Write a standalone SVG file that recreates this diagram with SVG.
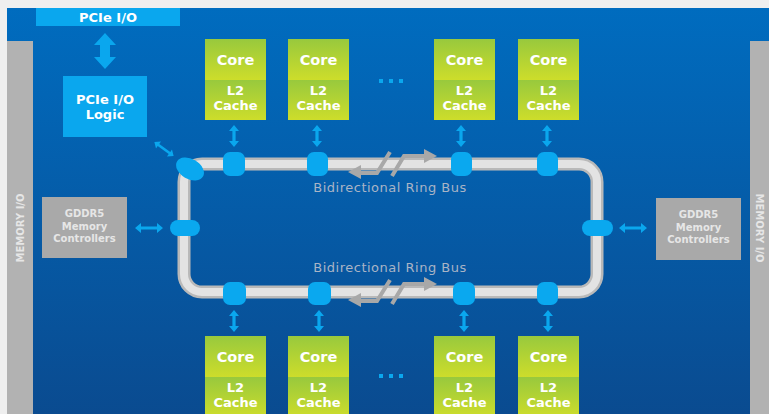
<svg xmlns="http://www.w3.org/2000/svg" width="769" height="414" viewBox="0 0 769 414">
<defs>
<style>
.t{font-family:"DejaVu Sans","Open Sans",sans-serif;font-weight:700;fill:#ffffff;text-anchor:middle}
.g{font-family:"DejaVu Sans","Open Sans",sans-serif;font-weight:700;fill:#e6e6e6;text-anchor:middle;font-size:10px}
.rb{font-family:"DejaVu Sans","Open Sans",sans-serif;font-size:13px;letter-spacing:0.5px;fill:#a9b4c6;text-anchor:middle}
.lb{fill:#0aa7ee}
.node{fill:#0aa8ef}
.ga{fill:none;stroke:#a8a8a8;stroke-width:4}
.gh{fill:#a8a8a8}
</style>
<linearGradient id="bg" x1="0" y1="0" x2="0" y2="1">
<stop offset="0" stop-color="#006cbf"/>
<stop offset="1" stop-color="#0a4b90"/>
</linearGradient>
<linearGradient id="gc" x1="0" y1="0" x2="0" y2="1">
<stop offset="0" stop-color="#98c93d"/>
<stop offset="1" stop-color="#cddd2b"/>
</linearGradient>
<path id="va" d="M0,-11 L5,-5 L1.6,-5 L1.6,5 L5,5 L0,11 L-5,5 L-1.6,5 L-1.6,-5 L-5,-5 Z"/>
<path id="ha" d="M-14,0 L-8,-5 L-8,-1.6 L8,-1.6 L8,-5 L14,0 L8,5 L8,1.6 L-8,1.6 L-8,5 Z"/>
<g id="blk">
<rect x="0" y="0" width="61" height="41" fill="url(#gc)"/>
<rect x="0" y="41" width="61" height="40" fill="url(#gc)"/>
<text class="t" x="30.5" y="26" font-size="14.5">Core</text>
<text class="t" x="30.5" y="56" font-size="13">L2</text>
<text class="t" x="30.5" y="71" font-size="13">Cache</text>
</g>
<g id="rba">
<path class="ga" d="M390,152 L377,173 L356,173"/>
<path class="gh" d="M348,172 L361,165 L361,179 Z"/>
<path class="ga" d="M392,176 L404,156 L425,156"/>
<path class="gh" d="M437,156 L424,149 L424,163 Z"/>
</g>
</defs>
<rect x="0" y="0" width="769" height="414" fill="#efefef"/>
<rect x="7" y="8" width="762" height="406" fill="url(#bg)"/>
<g id="mem-io-left">
<rect x="7" y="41" width="26" height="373" fill="#b2b2b2"/>
<text class="g" transform="translate(24,228) rotate(-90)">MEMORY I/O</text>
</g>
<g id="mem-io-right">
<rect x="750" y="41" width="19" height="373" fill="#b2b2b2"/>
<text class="g" transform="translate(756,228) rotate(90)">MEMORY I/O</text>
</g>
<g id="pcie-io">
<rect x="36" y="8" width="144" height="18" class="lb"/>
<text class="t" x="108" y="22" font-size="13">PCIe I/O</text>
</g>
<g id="pcie-logic">
<rect x="63" y="76" width="84" height="61" class="lb"/>
<text class="t" x="105" y="104" font-size="13">PCIe I/O</text>
<text class="t" x="105" y="119" font-size="13">Logic</text>
</g>
<g id="gddr5-left">
<rect x="42" y="197" width="85" height="61" fill="#a9a9a9"/>
<text class="g" x="84.5" y="217">GDDR5</text>
<text class="g" x="84.5" y="229.5">Memory</text>
<text class="g" x="84.5" y="242">Controllers</text>
</g>
<g id="gddr5-right">
<rect x="656" y="198" width="85" height="62" fill="#a9a9a9"/>
<text class="g" x="698.5" y="218">GDDR5</text>
<text class="g" x="698.5" y="230.5">Memory</text>
<text class="g" x="698.5" y="243">Controllers</text>
</g>
<g id="ring">
<rect x="184" y="164" width="413" height="128" rx="18" fill="none" stroke="#b9b9b9" stroke-width="13"/>
<rect x="184" y="164" width="413" height="128" rx="18" fill="none" stroke="#e3e3e3" stroke-width="8"/>
<use href="#rba"/>
<use href="#rba" y="128"/>
<text class="rb" x="390" y="192">Bidirectional Ring Bus</text>
<text class="rb" x="390" y="272">Bidirectional Ring Bus</text>
</g>
<g id="ring-stops">
<rect class="node" x="223" y="152" width="22" height="24" rx="7"/>
<rect class="node" x="307" y="152" width="21" height="24" rx="7"/>
<rect class="node" x="451" y="152" width="21" height="24" rx="7"/>
<rect class="node" x="537" y="152" width="21" height="24" rx="7"/>
<rect class="node" x="223" y="282" width="23" height="23" rx="7"/>
<rect class="node" x="308" y="282" width="23" height="23" rx="7"/>
<rect class="node" x="453" y="282" width="22" height="23" rx="7"/>
<rect class="node" x="537" y="282" width="21" height="23" rx="7"/>
<rect class="node" x="170" y="220" width="30" height="16" rx="8"/>
<rect class="node" x="582" y="220" width="31" height="16" rx="8"/>
<ellipse class="node" cx="190" cy="169" rx="15" ry="10" transform="rotate(30 190 169)"/>
</g>
<g id="cores-top">
<use href="#blk" x="205" y="39"/>
<use href="#blk" x="288" y="39"/>
<use href="#blk" x="434" y="39"/>
<use href="#blk" x="518" y="39"/>
<rect x="379" y="79" width="4" height="4" class="lb"/>
<rect x="389" y="79" width="4" height="4" class="lb"/>
<rect x="399" y="79" width="4" height="4" class="lb"/>
</g>
<g id="cores-bottom">
<use href="#blk" x="205" y="336"/>
<use href="#blk" x="288" y="336"/>
<use href="#blk" x="434" y="336"/>
<use href="#blk" x="518" y="336"/>
<rect x="379" y="374" width="4" height="4" class="lb"/>
<rect x="389" y="374" width="4" height="4" class="lb"/>
<rect x="399" y="374" width="4" height="4" class="lb"/>
</g>
<g id="connectors" class="lb">
<path d="M105,33 L116,45 L110,45 L110,57 L116,57 L105,69 L94,57 L100,57 L100,45 L94,45 Z"/>
<use href="#va" x="234" y="136"/>
<use href="#va" x="317" y="136"/>
<use href="#va" x="461" y="136"/>
<use href="#va" x="547" y="136"/>
<use href="#va" x="234" y="321"/>
<use href="#va" x="319" y="321"/>
<use href="#va" x="464" y="321"/>
<use href="#va" x="548" y="321"/>
<use href="#ha" x="149" y="228"/>
<use href="#ha" x="633" y="228"/>
<use href="#ha" transform="translate(164,149) rotate(36) scale(0.85)"/>
</g>
</svg>
